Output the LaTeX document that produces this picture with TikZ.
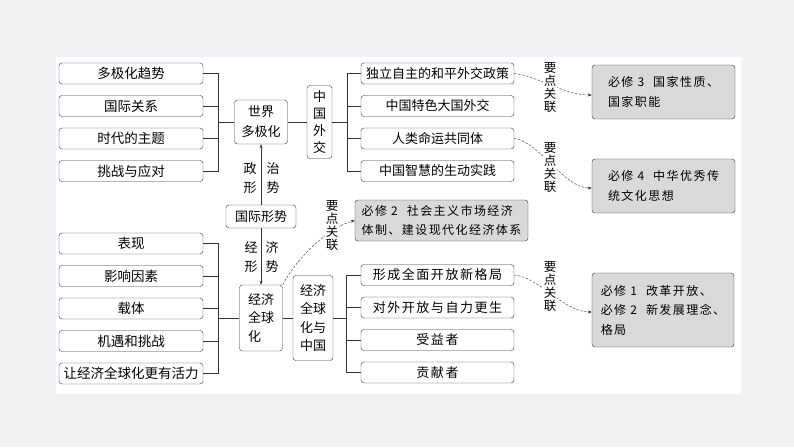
\documentclass[tikz,border=0pt]{standalone}
\usepackage{fontspec}
\setmainfont{Noto Sans CJK SC}
\newfontfamily\spacedfont[LetterSpace=12]{Noto Sans CJK SC}
\usetikzlibrary{positioning, arrows.meta}
\definecolor{linegray}{HTML}{333333}
\definecolor{notegray}{HTML}{D9D9D9}
\definecolor{pagegray}{HTML}{F2F2F4}

\begin{document}
\begin{tikzpicture}[x=1pt, y=-1pt, node distance=32.5pt, every node/.style={font=\fontsize{13}{18.5}\selectfont}]
  \tikzstyle{topic} = [rectangle, rounded corners=3pt, draw=linegray, minimum width=144pt, minimum height=21pt, inner sep=1pt, text centered, font=\fontsize{13.5}{16}\selectfont]
  \tikzstyle{branch} = [rectangle, rounded corners=3pt, draw=linegray, minimum width=153pt, minimum height=21pt, inner sep=1pt, text centered]
  \tikzstyle{hub} = [rectangle, rounded corners=3pt, draw=linegray, inner sep=1pt, align=center]
  \tikzstyle{note} = [rectangle, rounded corners=3pt, draw=linegray, fill=notegray, inner sep=2pt, align=left, font=\spacedfont\fontsize{12}{19.5}\selectfont]
  \tikzstyle{tag} = [align=center, fill=white, inner sep=1pt, font=\fontsize{12.5}{13}\selectfont]
  \tikzstyle{line} = [linegray, semithick]
  \tikzstyle{arrow} = [linegray, semithick, -{Stealth[length=4pt, width=3pt]}]
  \tikzstyle{link} = [linegray, thin, dash pattern=on 2.5pt off 1.5pt, -{Stealth[length=4pt, width=3pt]}]

  % page
  \useasboundingbox (0,0) rectangle (794,447);
  \fill [pagegray] (0,0) rectangle (794,447);
  \fill [white] (56,57) rectangle (741,394);

  % left columns
  \node (trend) [topic] at (131,73.5) {多极化趋势};
  \node (relation) [topic, below of=trend] {国际关系};
  \node (theme) [topic, below of=relation] {时代的主题};
  \node (challenge) [topic, below of=theme] {挑战与应对};

  \node (show) [topic] at (131,243.5) {表现};
  \node (factor) [topic, below of=show] {影响因素};
  \node (carrier) [topic, below of=factor] {载体};
  \node (chance) [topic, below of=carrier] {机遇和挑战};
  \node (vital) [topic, below of=chance] {让经济全球化更有活力};

  % centre
  \node (multipolar) [hub, minimum width=53pt, minimum height=44pt, font=\fontsize{13}{20}\selectfont] at (261,122) {世界\\多极化};
  \node (situation) [hub, minimum width=70pt, minimum height=23pt] at (261,216.5) {国际形势};
  \node (globalize) [hub, minimum width=43pt, minimum height=66pt, align=left] at (261,318) {经济\\全球\\化};
  \node (chinaglobal) [hub, minimum width=40pt, minimum height=85pt] at (313,318) {经济\\全球\\化与\\中国};
  \node (diplomacy) [hub, minimum width=25pt, minimum height=73pt, font=\fontsize{13}{17}\selectfont] at (319.5,122) {中\\国\\外\\交};

  \node (polA) [align=center] at (250,178) {政\\形};
  \node (polB) [align=center] at (273,178) {治\\势};
  \node (ecoA) [align=center] at (251,257) {经\\形};
  \node (ecoB) [align=center] at (272,257) {济\\势};

  % right columns
  \node (policy) [branch] at (437.5,73.5) {独立自主的和平外交政策};
  \node (power) [branch, below of=policy] {中国特色大国外交};
  \node (community) [branch, below of=power] {人类命运共同体};
  \node (wisdom) [branch, below of=community] {中国智慧的生动实践};

  \node (pattern) [branch, font=\spacedfont\fontsize{13}{16}\selectfont] at (437.5,275) {形成全面开放新格局};
  \node (selfreliance) [branch, font=\spacedfont\fontsize{13}{16}\selectfont, below of=pattern] {对外开放与自力更生};
  \node (beneficiary) [branch, font=\spacedfont\fontsize{13}{16}\selectfont, below of=selfreliance] {受益者};
  \node (contributor) [branch, font=\spacedfont\fontsize{13}{16}\selectfont, below of=beneficiary] {贡献者};

  % linked notes
  \node (stateNote) [note, minimum width=143pt, minimum height=54pt] at (663.5,92) {必修~3\hspace{9pt}国家性质、\\国家职能};
  \node (cultureNote) [note, minimum width=143pt, minimum height=54pt] at (663.5,186) {必修~4\hspace{9pt}中华优秀传\\统文化思想};
  \node (marketNote) [note, minimum width=173pt, minimum height=41pt] at (441.5,220.5) {必修~2\hspace{9pt}社会主义市场经济\\体制、建设现代化经济体系};
  \node (reformNote) [note, minimum width=142pt, minimum height=74pt] at (663,310) {必修~1\hspace{9pt}改革开放、\\必修~2\hspace{9pt}新发展理念、\\格局};

  % brackets
  \coordinate (leftTop) at (218,122);
  \coordinate (leftBottom) at (218,318);
  \coordinate (rightTop) at (347,122);
  \coordinate (rightBottom) at (346,318);

  \foreach \n in {trend, relation, theme, challenge}
    \draw [line] (\n.east) -| (leftTop);
  \foreach \n in {show, factor, carrier, chance, vital}
    \draw [line] (\n.east) -| (leftBottom);
  \foreach \n in {policy, power, community, wisdom}
    \draw [line] (rightTop) |- (\n.west);
  \foreach \n in {pattern, selfreliance, beneficiary, contributor}
    \draw [line] (rightBottom) |- (\n.west);

  \draw [line] (leftTop) -- (multipolar.west);
  \draw [line] (multipolar) -- (diplomacy);
  \draw [line] (diplomacy.east) -- (rightTop);
  \draw [line] (leftBottom) -- (globalize.west);
  \draw [line] (globalize) -- (chinaglobal);
  \draw [line] (chinaglobal.east) -- (rightBottom);

  \draw [arrow] (situation) -- (multipolar);
  \draw [arrow] (situation) -- (globalize);

  % dashed links
  \draw [link] (policy.east) .. controls +(22,2) and +(-28,0) .. ([yshift=-3pt]stateNote.west);
  \draw [link] (community.east) .. controls +(25,3) and +(-28,0) .. ([yshift=-2pt]cultureNote.west);
  \draw [link] (pattern.east) .. controls +(25,2) and +(-28,0) .. ([yshift=-2pt]reformNote.west);
  \draw [link] (globalize.north east) .. controls +(16,-30) and +(-24,6) .. (marketNote.west);

  \node (tagState) [tag] at (550,88) {要\\点\\关\\联};
  \node (tagCulture) [tag] at (550,168) {要\\点\\关\\联};
  \node (tagReform) [tag] at (550,287) {要\\点\\关\\联};
  \node (tagMarket) [tag] at (332,226) {要\\点\\关\\联};
\end{tikzpicture}
\end{document}
